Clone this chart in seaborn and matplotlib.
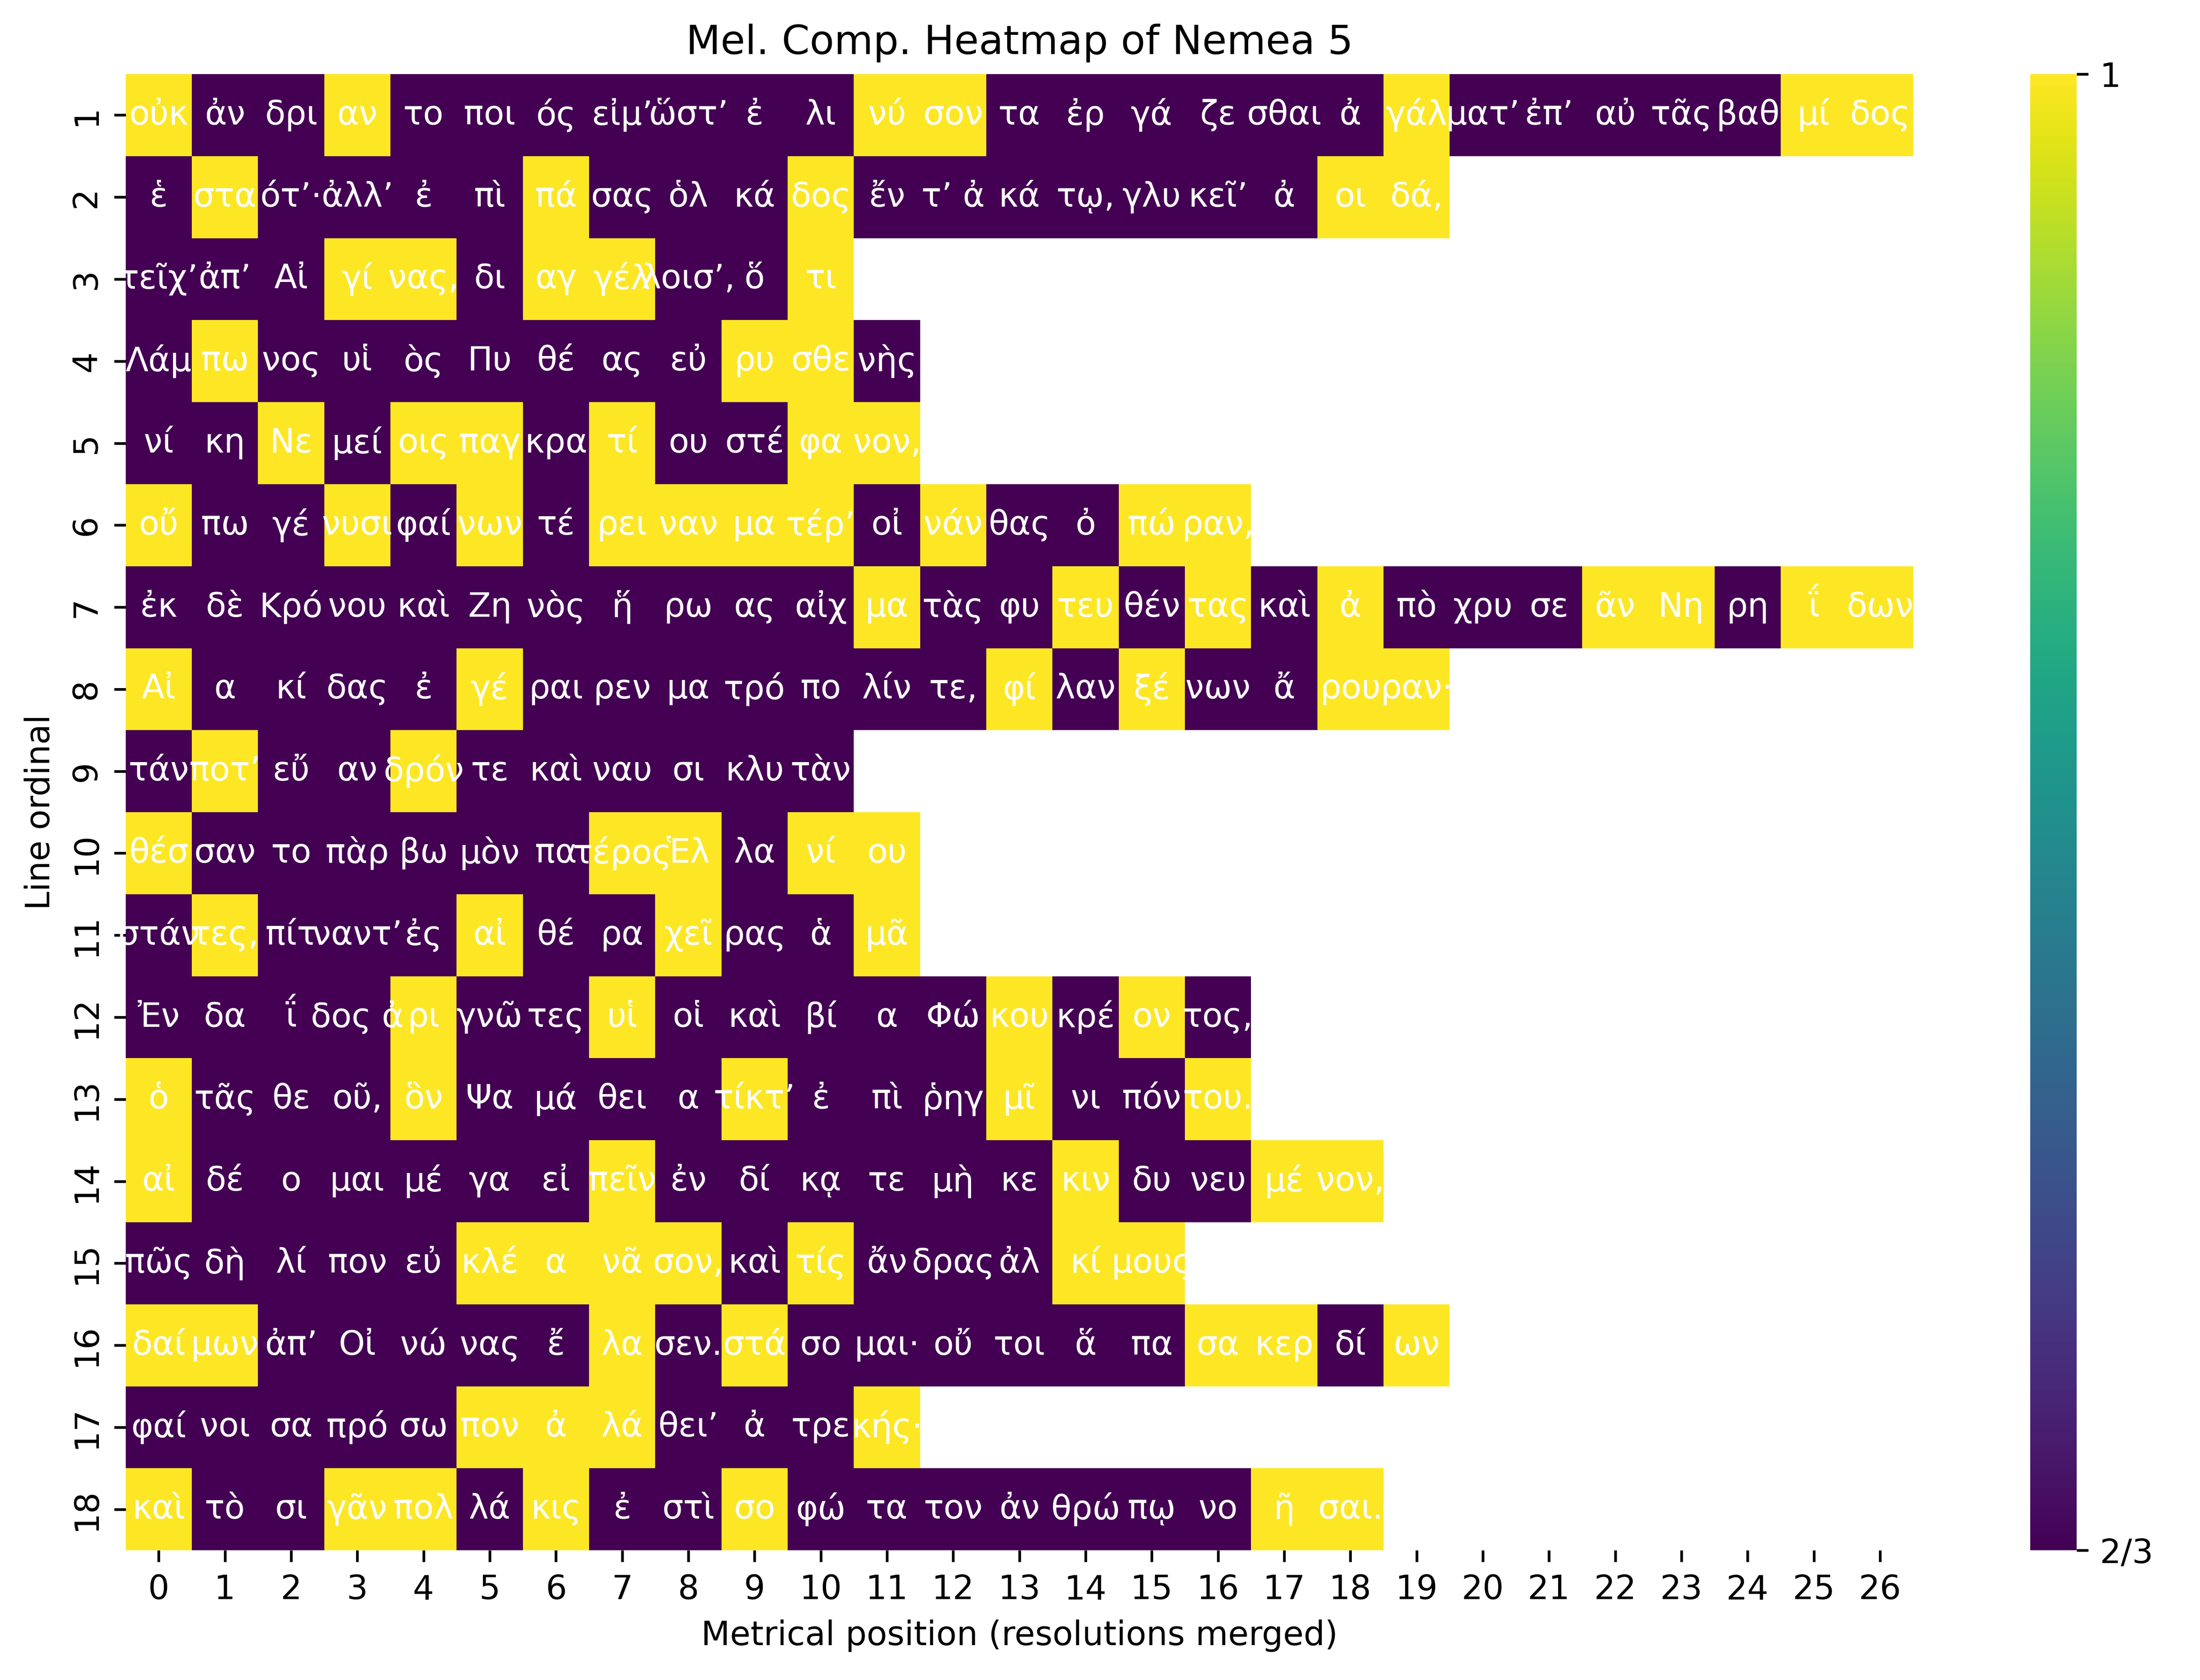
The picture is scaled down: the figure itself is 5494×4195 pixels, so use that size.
import numpy as np
import pandas as pd
import matplotlib
matplotlib.use("Agg")
import matplotlib.pyplot as plt
import seaborn as sns

# compatibility values: 1 = full, T = 2/3
T = 2 / 3

# syllables per line (resolutions merged), one list per line of the ode
syllables = [
    ["οὐκ", "ἀν", "δρι", "αν", "το", "ποι", "ός", "εἰμ’", "ὥστ’", "ἐ", "λι", "νύ", "σον", "τα",
     "ἐρ", "γά", "ζε", "σθαι", "ἀ", "γάλ", "ματ’", "ἐπ’", "αὐ", "τᾶς", "βαθ", "μί", "δος"],
    ["ἑ", "στα", "ότ’·", "ἀλλ’", "ἐ", "πὶ", "πά", "σας", "ὁλ", "κά", "δος", "ἔν", "τ’ ἀ", "κά",
     "τῳ,", "γλυ", "κεῖ’", "ἀ", "οι", "δά,"],
    ["τεῖχ’", "ἀπ’", "Αἰ", "γί", "νας,", "δι", "αγ", "γέλ", "λοισ’,", "ὅ", "τι"],
    ["Λάμ", "πω", "νος", "υἱ", "ὸς", "Πυ", "θέ", "ας", "εὐ", "ρυ", "σθε", "νὴς"],
    ["νί", "κη", "Νε", "μεί", "οις", "παγ", "κρα", "τί", "ου", "στέ", "φα", "νον,"],
    ["οὔ", "πω", "γέ", "νυσι", "φαί", "νων", "τέ", "ρει", "ναν", "μα", "τέρ’", "οἰ", "νάν", "θας",
     "ὀ", "πώ", "ραν,"],
    ["ἐκ", "δὲ", "Κρό", "νου", "καὶ", "Ζη", "νὸς", "ἥ", "ρω", "ας", "αἰχ", "μα", "τὰς", "φυ",
     "τευ", "θέν", "τας", "καὶ", "ἀ", "πὸ", "χρυ", "σε", "ᾶν", "Νη", "ρη", "ΐ", "δων"],
    ["Αἰ", "α", "κί", "δας", "ἐ", "γέ", "ραι", "ρεν", "μα", "τρό", "πο", "λίν", "τε,", "φί",
     "λαν", "ξέ", "νων", "ἄ", "ρου", "ραν·"],
    ["τάν", "ποτ’", "εὔ", "αν", "δρόν", "τε", "καὶ", "ναυ", "σι", "κλυ", "τὰν"],
    ["θέσ", "σαν", "το", "πὰρ", "βω", "μὸν", "πα", "τέρος", "Ἑλ", "λα", "νί", "ου"],
    ["στάν", "τες,", "πίτ", "ναντ’", "ἐς", "αἰ", "θέ", "ρα", "χεῖ", "ρας", "ἁ", "μᾶ"],
    ["Ἐν", "δα", "ΐ", "δος ἀ", "ρι", "γνῶ", "τες", "υἱ", "οἱ", "καὶ", "βί", "α", "Φώ", "κου",
     "κρέ", "ον", "τος,"],
    ["ὁ", "τᾶς", "θε", "οῦ,", "ὃν", "Ψα", "μά", "θει", "α", "τίκτ’", "ἐ", "πὶ", "ῥηγ", "μῖ",
     "νι", "πόν", "του."],
    ["αἰ", "δέ", "ο", "μαι", "μέ", "γα", "εἰ", "πεῖν", "ἐν", "δί", "κᾳ", "τε", "μὴ", "κε",
     "κιν", "δυ", "νευ", "μέ", "νον,"],
    ["πῶς", "δὴ", "λί", "πον", "εὐ", "κλέ", "α", "νᾶ", "σον,", "καὶ", "τίς", "ἄν", "δρας", "ἀλ",
     "κί", "μους"],
    ["δαί", "μων", "ἀπ’", "Οἰ", "νώ", "νας", "ἔ", "λα", "σεν.", "στά", "σο", "μαι·", "οὔ", "τοι",
     "ἅ", "πα", "σα", "κερ", "δί", "ων"],
    ["φαί", "νοι", "σα", "πρό", "σω", "πον", "ἀ", "λά", "θει’", "ἀ", "τρε", "κής·"],
    ["καὶ", "τὸ", "σι", "γᾶν", "πολ", "λά", "κις", "ἐ", "στὶ", "σο", "φώ", "τα", "τον", "ἀν",
     "θρώ", "πῳ", "νο", "ῆ", "σαι."],
]

# melodic compatibility per syllable
compat = [
    [1, T, T, 1, T, T, T, T, T, T, T, 1, 1, T, T, T, T, T, T, 1, T, T, T, T, T, 1, 1],
    [T, 1, T, T, T, T, 1, T, T, T, 1, T, T, T, T, T, T, T, 1, 1],
    [T, T, T, 1, 1, T, 1, 1, T, T, 1],
    [T, 1, T, T, T, T, T, T, T, 1, 1, T],
    [T, T, 1, T, 1, 1, T, 1, T, T, 1, 1],
    [1, T, T, 1, T, 1, T, 1, 1, 1, 1, T, 1, T, T, 1, 1],
    [T, T, T, T, T, T, T, T, T, T, T, 1, T, T, 1, T, 1, T, 1, T, T, T, 1, 1, T, 1, 1],
    [1, T, T, T, T, 1, T, T, T, T, T, T, T, 1, T, 1, T, T, 1, 1],
    [T, 1, T, T, 1, T, T, T, T, T, T],
    [1, T, T, T, T, T, T, 1, 1, T, 1, 1],
    [T, 1, T, T, T, 1, T, T, 1, T, T, 1],
    [T, T, T, T, 1, T, T, 1, T, T, T, T, T, 1, T, 1, T],
    [1, T, T, T, 1, T, T, T, T, 1, T, T, T, 1, T, T, 1],
    [1, T, T, T, T, T, T, 1, T, T, T, T, T, T, 1, T, T, 1, 1],
    [T, T, T, T, T, 1, 1, 1, 1, T, 1, T, T, T, 1, 1],
    [1, 1, T, T, T, T, T, 1, T, 1, T, T, T, T, T, T, 1, 1, T, 1],
    [T, T, T, T, T, 1, 1, 1, T, T, T, 1],
    [1, T, T, 1, 1, T, 1, T, T, 1, T, T, T, T, T, T, T, 1, 1],
]

line_numbers = list(range(1, len(syllables) + 1))
n_pos = max(len(s) for s in syllables)

grid = np.full((len(syllables), n_pos), np.nan)
labels = np.full((len(syllables), n_pos), "", dtype=object)
for i, (syl, val) in enumerate(zip(syllables, compat)):
    grid[i, :len(val)] = val
    labels[i, :len(syl)] = syl

df = pd.DataFrame(grid, index=line_numbers, columns=range(n_pos))

fig = plt.figure(figsize=(5494 / 600, 4195 / 600), dpi=600)
ax = fig.add_axes([0.0571, 0.0772, 0.8125, 0.8787])
cax = fig.add_axes([0.9228, 0.0772, 0.0211, 0.8787])

sns.heatmap(
    df,
    ax=ax,
    cbar_ax=cax,
    cmap="viridis",
    annot=labels,
    fmt="",
    annot_kws={"color": "white", "fontsize": 10},
    cbar_kws={"ticks": [T, 1]},
)
cbar = ax.collections[0].colorbar
cbar.set_ticklabels(["2/3", "1"])

ax.set_title("Mel. Comp. Heatmap of Nemea 5")
ax.set_xlabel("Metrical position (resolutions merged)")
ax.set_ylabel("Line ordinal")

fig.savefig("out.png", dpi=600)
